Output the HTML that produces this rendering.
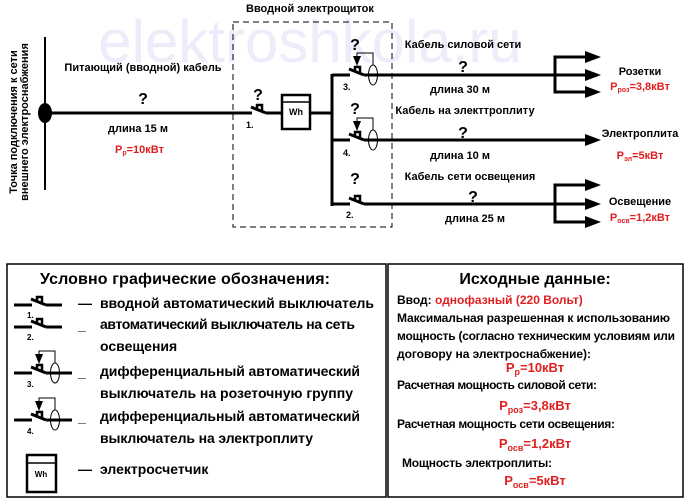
<!DOCTYPE html>
<html><head><meta charset="utf-8"><style>
html,body{margin:0;padding:0;background:#fff}
svg{display:block}
text{font-family:"Liberation Sans",sans-serif;font-weight:bold}
.c{font-family:"Liberation Sans","DejaVu Sans",sans-serif}
.r{fill:#e02020}
</style></head><body>
<svg width="688" height="500" viewBox="0 0 688 500" xmlns="http://www.w3.org/2000/svg">
<defs>
<g id="sw">
<line x1="-18" y1="0" x2="0" y2="0" stroke="#000" stroke-width="3"/>
<line x1="-1" y1="-6" x2="14" y2="0" stroke="#000" stroke-width="3"/>
<path d="M5,-3 L5,-8 L10,-8 L10,-1" fill="none" stroke="#000" stroke-width="2.5"/>
<line x1="14" y1="0" x2="30" y2="0" stroke="#000" stroke-width="3"/>
</g>
<g id="rcd">
<line x1="-18" y1="0" x2="0" y2="0" stroke="#000" stroke-width="3"/>
<line x1="-1" y1="-6" x2="14" y2="0" stroke="#000" stroke-width="3"/>
<path d="M5,-3 L5,-8 L10,-8 L10,-1" fill="none" stroke="#000" stroke-width="2.5"/>
<path d="M7,-9 L3,-19 L11,-19 Z" fill="#000"/>
<path d="M7,-19 L7,-22 L23,-22 L23,-10" fill="none" stroke="#000" stroke-width="1"/>
<ellipse cx="23" cy="0" rx="4.5" ry="10" fill="none" stroke="#000" stroke-width="1"/>
<line x1="14" y1="0" x2="40" y2="0" stroke="#000" stroke-width="3"/>
</g>
<g id="arr"><path d="M-16,-6 L0,0 L-16,6 Z" fill="#000"/></g>
</defs>
<text x="310" y="62" font-size="60" fill="#ececfa" text-anchor="middle" style="font-weight:normal">elektroshkola.ru</text>

<g transform="translate(17,122) rotate(-90)"><text x="0" y="0" font-size="11" text-anchor="middle" class="c">Точка подключения к сети</text>
<text x="0" y="11" font-size="11" text-anchor="middle" class="c">внешнего электроснабжения</text></g>
<line x1="45" y1="37" x2="45" y2="190" stroke="#000" stroke-width="2"/>
<ellipse cx="45" cy="113" rx="7" ry="10" fill="#000"/>
<line x1="45" y1="113" x2="252" y2="113" stroke="#000" stroke-width="3"/>
<text x="143" y="71" font-size="11" text-anchor="middle" class="c">Питающий (вводной) кабель</text>
<text x="143" y="104" font-size="16" text-anchor="middle">?</text>
<text x="138" y="132" font-size="11" text-anchor="middle" class="c">длина 15 м</text>
<text x="115" y="153" font-size="11" class="r c">P<tspan font-size="7" dy="2">р</tspan><tspan dy="-2">=10кВт</tspan></text>

<rect x="233" y="22" width="159" height="205" fill="none" stroke="#000" stroke-width="1" stroke-dasharray="6,4"/>
<text x="246" y="12" font-size="11" class="c">Вводной электрощиток</text>
<use href="#sw" transform="translate(252,113)"/>
<text x="258" y="100" font-size="16" text-anchor="middle">?</text>
<text x="246" y="128" font-size="9">1.</text>
<rect x="282" y="95" width="28" height="34" fill="#fff" stroke="#000" stroke-width="2.5"/>
<line x1="282" y1="102" x2="310" y2="102" stroke="#000" stroke-width="1.5"/>
<text x="296" y="115" font-size="9" text-anchor="middle">Wh</text>
<line x1="310" y1="113" x2="332" y2="113" stroke="#000" stroke-width="3"/>
<line x1="332" y1="74" x2="332" y2="206" stroke="#000" stroke-width="3"/>

<use href="#rcd" transform="translate(350,75)"/>
<line x1="390" y1="75" x2="590" y2="75" stroke="#000" stroke-width="3"/>
<text x="355" y="50" font-size="16" text-anchor="middle">?</text>
<text x="343" y="90" font-size="9">3.</text>
<use href="#rcd" transform="translate(350,140)"/>
<line x1="390" y1="140" x2="590" y2="140" stroke="#000" stroke-width="3"/>
<text x="355" y="114" font-size="16" text-anchor="middle">?</text>
<text x="343" y="156" font-size="9">4.</text>
<use href="#sw" transform="translate(350,204)"/>
<line x1="380" y1="204" x2="590" y2="204" stroke="#000" stroke-width="3"/>
<text x="355" y="184" font-size="16" text-anchor="middle">?</text>
<text x="346" y="218" font-size="9">2.</text>

<path d="M590,57 L555,57 L555,92 L590,92" fill="none" stroke="#000" stroke-width="3"/>
<use href="#arr" transform="translate(601,57)"/><use href="#arr" transform="translate(601,75)"/><use href="#arr" transform="translate(601,92)"/>
<use href="#arr" transform="translate(601,140)"/>
<path d="M590,185 L555,185 L555,222 L590,222" fill="none" stroke="#000" stroke-width="3"/>
<use href="#arr" transform="translate(601,185)"/><use href="#arr" transform="translate(601,204)"/><use href="#arr" transform="translate(601,222)"/>

<text x="463" y="48" font-size="11" text-anchor="middle" class="c">Кабель силовой сети</text>
<text x="463" y="72" font-size="16" text-anchor="middle">?</text>
<text x="460" y="93" font-size="11" text-anchor="middle" class="c">длина 30 м</text>
<text x="465" y="114" font-size="11" text-anchor="middle" class="c">Кабель на электтроплиту</text>
<text x="463" y="138" font-size="16" text-anchor="middle">?</text>
<text x="460" y="159" font-size="11" text-anchor="middle" class="c">длина 10 м</text>
<text x="470" y="180" font-size="11" text-anchor="middle" class="c">Кабель сети освещения</text>
<text x="473" y="202" font-size="16" text-anchor="middle">?</text>
<text x="475" y="222" font-size="11" text-anchor="middle" class="c">длина 25 м</text>

<text x="640" y="75" font-size="11" text-anchor="middle" class="c">Розетки</text>
<text x="640" y="90" font-size="11" text-anchor="middle" class="r c">P<tspan font-size="7" dy="2">роз</tspan><tspan dy="-2">=3,8кВт</tspan></text>
<text x="640" y="137" font-size="11" text-anchor="middle" class="c">Электроплита</text>
<text x="640" y="159" font-size="11" text-anchor="middle" class="r c">P<tspan font-size="7" dy="2">эл</tspan><tspan dy="-2">=5кВт</tspan></text>
<text x="640" y="205" font-size="11" text-anchor="middle" class="c">Освещение</text>
<text x="640" y="221" font-size="11" text-anchor="middle" class="r c">P<tspan font-size="7" dy="2">осв</tspan><tspan dy="-2">=1,2кВт</tspan></text>

<rect x="7" y="264" width="379" height="233" fill="none" stroke="#000" stroke-width="1.5"/>
<rect x="388" y="264" width="295" height="233" fill="none" stroke="#000" stroke-width="1.5"/>
<text x="40" y="284" font-size="16" textLength="290" class="c">Условно графические обозначения:</text>
<use href="#sw" transform="translate(32,305)"/><text x="27" y="318" font-size="8">1.</text>
<use href="#sw" transform="translate(32,327)"/><text x="27" y="340" font-size="8">2.</text>
<use href="#rcd" transform="translate(32,373)"/><text x="27" y="387" font-size="8">3.</text>
<use href="#rcd" transform="translate(32,420)"/><text x="27" y="434" font-size="8">4.</text>
<rect x="27" y="455" width="29" height="37" fill="none" stroke="#000" stroke-width="2.5"/>
<line x1="27" y1="463" x2="56" y2="463" stroke="#000" stroke-width="1.5"/>
<text x="41" y="477" font-size="8" text-anchor="middle">Wh</text>
<g font-size="14" class="c">
<text x="78" y="308">—</text><text x="100" y="308" textLength="274">вводной автоматический выключатель</text>
<text x="78" y="330">_</text><text x="100" y="329" textLength="255">автоматический выключатель на сеть</text>
<text x="100" y="351">освещения</text>
<text x="78" y="377">_</text><text x="100" y="376" textLength="260">дифференциальный автоматический</text>
<text x="100" y="398" textLength="253">выключатель на розеточную группу</text>
<text x="78" y="422">_</text><text x="100" y="421" textLength="260">дифференциальный автоматический</text>
<text x="100" y="443" textLength="213">выключатель на электроплиту</text>
<text x="78" y="474">—</text><text x="100" y="474">электросчетчик</text>
</g>
<text x="535" y="284" font-size="16" text-anchor="middle" class="c">Исходные данные:</text>
<g font-size="12" class="c">
<text x="397" y="304">Ввод: <tspan class="r">однофазный (220 Вольт)</tspan></text>
<text x="397" y="322" textLength="273">Максимальная разрешенная к использованию</text>
<text x="397" y="340" textLength="278">мощность (согласно техническим условиям или</text>
<text x="397" y="358" textLength="194">договору на электроснабжение):</text>
<text x="397" y="389" textLength="200">Расчетная мощность силовой сети:</text>
<text x="397" y="428" textLength="218">Расчетная мощность сети освещения:</text>
<text x="402" y="467" textLength="150">Мощность электроплиты:</text>
</g>
<g font-size="13" class="r c" text-anchor="middle">
<text x="535" y="372">P<tspan font-size="9" dy="3">р</tspan><tspan dy="-3">=10кВт</tspan></text>
<text x="535" y="410">P<tspan font-size="9" dy="3">роз</tspan><tspan dy="-3">=3,8кВт</tspan></text>
<text x="535" y="448">P<tspan font-size="9" dy="3">осв</tspan><tspan dy="-3">=1,2кВт</tspan></text>
<text x="535" y="485">P<tspan font-size="9" dy="3">осв</tspan><tspan dy="-3">=5кВт</tspan></text>
</g>
</svg>
</body></html>
